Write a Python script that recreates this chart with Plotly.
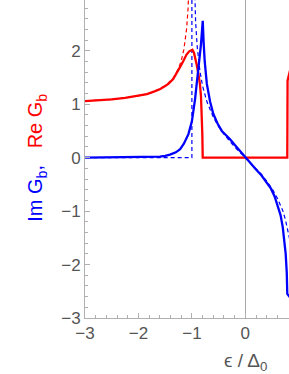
import plotly.graph_objects as go

# Re G_b (solid red)
re_x = [-3.1, -3.0, -2.75, -2.5, -2.25, -2.0, -1.84, -1.7, -1.6, -1.5, -1.44, -1.35, -1.28, -1.22,
        -1.16, -1.10, -1.05, -1.0, -0.99, -0.96, -0.93, -0.91, -0.88, -0.85, -0.83, -0.815, -0.805, -0.797,
        0.785, 0.79, 0.84]
re_y = [1.05, 1.055, 1.07, 1.09, 1.12, 1.155, 1.19, 1.24, 1.28, 1.34, 1.38, 1.47, 1.58, 1.70,
        1.81, 1.93, 1.99, 2.01, 2.02, 1.96, 1.84, 1.74, 1.58, 1.38, 1.15, 0.88, 0.45, 0.0,
        0.0, 1.44, 1.65]

# Re G_b reference (dashed red)
re0_x = [-3.1, -3.0, -2.5, -2.0, -1.75, -1.5, -1.35, -1.25, -1.2, -1.15, -1.1, -1.07, -1.05, -1.03, -1.01]
re0_y = [1.057, 1.061, 1.091, 1.155, 1.219, 1.342, 1.488, 1.667, 1.809, 2.025, 2.40, 2.81, 3.28, 4.17, 7.1]

# Im G_b (solid blue)
im_x = [-3.1, -2.5, -2.0, -1.8, -1.6, -1.5, -1.41, -1.3, -1.22, -1.15, -1.065, -1.0, -0.97, -0.94,
        -0.91, -0.87, -0.83, -0.81, -0.797, -0.78, -0.76, -0.72, -0.66, -0.6, -0.52, -0.44, -0.36,
        -0.29, -0.2, -0.1, 0.0, 0.1, 0.2, 0.3, 0.4, 0.48, 0.55, 0.61, 0.66, 0.7, 0.73, 0.755, 0.775, 0.785, 0.9]
im_y = [0.0, 0.003, 0.006, 0.01, 0.02, 0.035, 0.056, 0.10, 0.16, 0.26, 0.44, 0.68, 0.88, 1.10,
        1.38, 1.72, 2.12, 2.38, 2.56, 2.15, 1.80, 1.38, 1.05, 0.82, 0.64, 0.50, 0.42,
        0.35, 0.24, 0.12, 0.0, -0.11, -0.22, -0.33, -0.46, -0.58, -0.73, -0.90, -1.08, -1.30, -1.52, -1.80, -2.15, -2.55, -2.7]

# Im G_b reference (dashed blue): zero branch with delta at -1, and band branch
im0a_x = [-3.1, -1.0, -1.0]
im0a_y = [0.0, 0.0, 6.0]
im0b_x = [-0.975, -0.95, -0.93, -0.9, -0.85, -0.8, -0.72, -0.6, -0.5, -0.4, -0.3, -0.2, -0.1, 0.0,
          0.1, 0.2, 0.3, 0.4, 0.5, 0.6, 0.7, 0.75, 0.8, 0.85]
im0b_y = [4.2, 3.04, 2.53, 2.07, 1.62, 1.34, 1.05, 0.76, 0.58, 0.44, 0.31, 0.20, 0.10, 0.0,
          -0.10, -0.20, -0.31, -0.44, -0.58, -0.76, -0.99, -1.16, -1.40, -1.62]

x_ticks = [-3, -2, -1, 0]
x_tick_labels = ["\u22123", "\u22122", "\u22121", "0"]
y_ticks = [-3, -2, -1, 0, 1, 2]
y_tick_labels = ["\u22123", "\u22122", "\u22121", "0", "1", "2"]

RED = "#ff0000"
BLUE = "#0000ff"
GRAY_TXT = "#555555"
AX = "#b0b0b0"
FONT = "Liberation Sans, Arial, sans-serif"

fig = go.Figure()
fig.add_trace(go.Scatter(x=re0_x, y=re0_y, mode="lines",
                         line=dict(color=RED, width=1.2, dash="4px,3px")))
fig.add_trace(go.Scatter(x=im0a_x, y=im0a_y, mode="lines",
                         line=dict(color=BLUE, width=1.2, dash="4px,3px")))
fig.add_trace(go.Scatter(x=im0b_x, y=im0b_y, mode="lines",
                         line=dict(color=BLUE, width=1.2, dash="4px,3px")))
fig.add_trace(go.Scatter(x=re_x, y=re_y, mode="lines",
                         line=dict(color=RED, width=2.3)))
fig.add_trace(go.Scatter(x=im_x, y=im_y, mode="lines",
                         line=dict(color=BLUE, width=2.3)))

fig.update_layout(
    width=289, height=374,
    margin=dict(l=85, r=0, t=0, b=56),
    paper_bgcolor="white", plot_bgcolor="white",
    showlegend=False,
    font=dict(family=FONT, size=17, color=GRAY_TXT),
    xaxis=dict(range=[-3, 0.817], tickvals=x_ticks, ticktext=x_tick_labels,
               ticks="inside", ticklen=5, tickcolor=AX, tickwidth=1,
               showline=True, linecolor=AX, linewidth=1,
               showgrid=False, zeroline=True, zerolinecolor="#a8a8a8", zerolinewidth=1,
               minor=dict(dtick=0.2, ticks="inside", ticklen=3, tickcolor=AX),
               tickfont=dict(size=17, color=GRAY_TXT), fixedrange=True),
    yaxis=dict(range=[-3, 2.95], tickvals=y_ticks, ticktext=y_tick_labels,
               ticks="inside", ticklen=5, tickcolor=AX, tickwidth=1,
               showline=True, linecolor=AX, linewidth=1,
               showgrid=False, zeroline=False,
               minor=dict(dtick=0.2, ticks="inside", ticklen=3, tickcolor=AX),
               tickfont=dict(size=17, color=GRAY_TXT), fixedrange=True),
)

fig.add_annotation(
    text=("<span style='color:#0000ff'>Im G<sub>b</sub>,</span>   "
          "<span style='color:#ff0000'>Re G<sub>b</sub></span>"),
    xref="paper", yref="y", x=-0.235, y=0.0, textangle=-90,
    xanchor="center", yanchor="middle", showarrow=False,
    font=dict(size=20, family=FONT))
fig.add_annotation(
    text="\u03f5 / \u0394<sub>0</sub>", xref="x", yref="paper", x=0.0, y=-0.138,
    xanchor="center", yanchor="middle", showarrow=False,
    font=dict(size=19, family=FONT, color=GRAY_TXT))
fig.add_annotation(
    text="3", xref="paper", yref="y", x=0, y=3.0, xshift=-6,
    xanchor="right", yanchor="middle", showarrow=False,
    font=dict(size=17, family=FONT, color=GRAY_TXT))

fig.write_html("out.html", config={"displayModeBar": False, "staticPlot": True},
               post_script="document.body.style.margin='0px';document.body.style.overflow='hidden';")
